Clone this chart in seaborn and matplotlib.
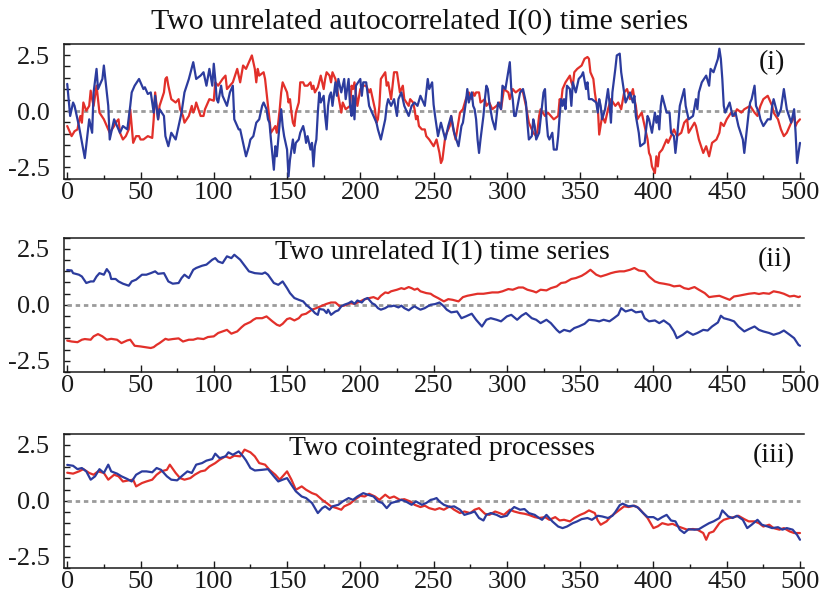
import matplotlib
matplotlib.use("Agg")
import matplotlib.pyplot as plt
import seaborn as sns
import pandas as pd
from matplotlib.ticker import MultipleLocator

# ---------------- data ----------------
# Panel (i): two unrelated autocorrelated I(0) series
t_i_blue = [0, 2, 4, 5, 8, 12, 15, 17, 18, 20, 21, 24, 25, 28, 29, 32, 34, 36, 38, 41, 43, 44, 46, 49, 50, 52, 53, 55, 57, 59, 60, 62, 63, 66, 67, 69, 71, 74, 76, 78, 80, 83, 86, 88, 91, 93, 95, 97, 99, 100, 101, 102, 103, 105, 106, 109, 111, 113, 114, 117, 118, 120, 122, 124, 125, 127, 129, 131, 133, 134, 136, 137, 138, 139, 141, 142, 143, 145, 146, 147, 148, 150, 151, 152, 153, 154, 155, 156, 158, 159, 160, 161, 162, 163, 164, 166, 167, 168, 169, 170, 171, 172, 173, 175, 176, 177, 178, 179, 180, 181, 183, 184, 185, 187, 189, 190, 192, 193, 194, 195, 196, 197, 200, 201, 202, 204, 206, 209, 211, 212, 214, 217, 218, 219, 221, 223, 225, 226, 228, 230, 233, 235, 237, 239, 241, 244, 245, 246, 247, 249, 250, 251, 253, 255, 258, 260, 262, 264, 267, 269, 270, 272, 273, 274, 276, 277, 278, 279, 280, 281, 282, 284, 285, 286, 287, 288, 290, 292, 293, 294, 296, 297, 299, 302, 303, 304, 305, 306, 309, 311, 313, 314, 315, 317, 318, 319, 320, 322, 323, 325, 326, 327, 328, 329, 331, 332, 334, 335, 336, 337, 338, 339, 340, 341, 343, 344, 345, 347, 349, 351, 352, 354, 355, 356, 358, 361, 362, 363, 364, 365, 367, 369, 370, 371, 372, 374, 375, 377, 378, 380, 381, 384, 386, 387, 388, 390, 391, 394, 396, 397, 399, 401, 402, 403, 404, 405, 406, 409, 411, 412, 414, 415, 416, 418, 421, 422, 424, 427, 429, 430, 431, 433, 436, 438, 439, 441, 444, 445, 446, 447, 448, 449, 452, 454, 456, 458, 461, 462, 463, 464, 465, 466, 467, 469, 470, 472, 473, 475, 478, 480, 481, 482, 485, 487, 489, 491, 494, 496, 497, 498, 500]
v_i_blue = [1.22, -0.21, 0.39, 0.24, -0.66, -2.09, -0.36, -0.96, 0.84, 1.89, 0.99, 1.44, 2.04, 0.24, -1.26, -0.36, -0.66, -0.96, -0.66, -0.81, 0.24, 0.84, 1.14, 1.44, 1.29, 0.99, 1.07, 0.77, 0.84, -0.06, 0.69, -0.36, 0.09, -0.21, -1.11, -1.56, -0.96, -1.26, -0.66, -0.06, 0.84, 1.44, 2.19, 1.44, 1.59, 1.74, 1.14, 1.89, 1.14, 2.12, 1.44, 0.54, 0.39, 1.14, 0.69, 0.24, 0.84, 1.14, -0.36, -0.81, -0.81, -1.41, -2.01, -1.56, -1.26, -1.11, -0.51, -0.36, 0.24, 0.39, 0.09, -0.36, -0.51, -1.26, -2.61, -1.56, -2.01, -0.51, 0.09, -0.66, -1.11, -1.71, -2.91, -2.16, -1.71, -1.26, -1.86, -1.41, -1.26, -0.96, -0.81, -0.66, -0.96, -1.41, -1.11, -1.71, -1.41, -2.46, -1.56, -1.26, -0.06, 0.84, 0.39, 0.69, -0.21, -0.81, 0.24, 0.69, 0.84, 0.24, 1.29, 0.69, 1.44, 0.84, 1.44, 0.54, 1.44, 0.24, -0.21, 0.69, -0.36, 1.14, 1.44, 0.69, 1.29, 1.29, 0.24, -0.21, -0.51, -0.81, -1.26, -0.36, 0.24, 0.54, 0.24, 0.54, -0.21, 0.54, 0.84, 0.24, -0.21, 0.24, 0.39, 0.24, 0.69, 0.24, 0.84, 1.44, 0.99, 1.29, 0.3, -0.21, -1.11, -0.51, -1.26, -0.66, -0.21, -0.96, -1.56, -0.66, -0.51, 0.39, 0.99, 0.39, 0.84, 0.24, 0.09, -0.36, -1.26, -1.86, -1.26, -0.21, 0.54, 1.14, 0.99, 0.39, -0.36, -0.81, -0.21, 0.39, 0.09, 1.14, 0.99, 2.19, 0.99, 0.54, -0.21, -0.21, 0.84, 0.99, 0.39, -0.51, -1.26, -1.11, -0.36, -0.66, -1.26, -0.96, -0.36, 0.84, 0.99, -0.36, -1.11, -1.26, -0.96, -1.71, -1.71, -1.11, -0.21, 0.54, 0.24, 0.54, 0.09, 1.14, 0.99, 0.24, 1.29, 0.84, 1.44, 1.59, 1.74, 0.99, 1.29, 0.54, 0.54, 0.39, -0.06, 0.54, 0.24, -0.36, 0.09, 0.99, 0.39, -0.51, 0.84, 1.89, 2.49, 2.57, 1.74, 0.84, 0.39, 0.84, 0.39, 0.69, -0.21, -0.96, -1.56, -1.41, -0.21, -0.36, -0.96, -0.06, -0.51, -0.21, -0.81, 0.24, 0.69, -0.06, -0.06, -0.96, -1.11, -1.86, -1.26, 0.24, 0.99, 0.24, -0.36, -0.21, 0.54, 0.09, 0.84, 1.29, 1.59, 1.14, 1.89, 1.74, 2.34, 2.79, 2.34, 1.44, 0.24, -0.06, 0.39, -0.21, -0.06, -0.66, -1.26, -1.86, -1.26, -0.66, -0.06, 0.39, 0.54, 1.14, 0.24, -0.06, -0.36, -0.66, -0.36, -0.36, 0.24, 0.54, -0.21, 0.09, 0.99, 0.09, -0.51, 0.09, -0.96, -2.31, -1.41]

t_i_red = [0, 3, 5, 7, 8, 9, 10, 11, 13, 15, 16, 17, 18, 20, 21, 22, 25, 27, 29, 32, 33, 35, 36, 38, 40, 42, 43, 44, 45, 47, 49, 50, 52, 55, 58, 59, 60, 62, 63, 66, 67, 68, 69, 71, 74, 76, 77, 79, 80, 83, 85, 86, 87, 88, 91, 93, 94, 97, 100, 101, 103, 106, 108, 109, 111, 113, 116, 118, 120, 122, 124, 125, 126, 127, 128, 129, 130, 131, 134, 135, 136, 137, 138, 139, 142, 143, 144, 145, 146, 147, 148, 150, 151, 152, 153, 154, 155, 156, 158, 159, 161, 162, 164, 166, 167, 168, 169, 171, 173, 175, 176, 177, 179, 180, 181, 183, 185, 187, 188, 190, 193, 194, 195, 196, 198, 200, 202, 204, 206, 207, 209, 210, 211, 212, 213, 214, 217, 218, 219, 221, 223, 225, 226, 227, 229, 230, 233, 234, 236, 237, 238, 239, 240, 242, 244, 245, 247, 250, 252, 254, 255, 256, 258, 259, 261, 262, 263, 265, 268, 270, 272, 274, 276, 277, 278, 279, 281, 282, 285, 286, 288, 290, 293, 295, 296, 298, 301, 302, 304, 306, 309, 311, 312, 313, 315, 318, 320, 321, 322, 323, 326, 328, 330, 332, 335, 336, 337, 338, 340, 343, 344, 345, 346, 348, 351, 353, 355, 356, 357, 359, 360, 361, 362, 363, 365, 367, 369, 371, 374, 376, 378, 380, 382, 384, 386, 387, 388, 389, 392, 394, 395, 396, 397, 398, 399, 401, 402, 403, 404, 406, 409, 410, 412, 414, 416, 419, 421, 423, 424, 428, 429, 431, 434, 436, 438, 440, 443, 445, 446, 448, 450, 453, 455, 457, 460, 462, 466, 469, 471, 473, 475, 478, 481, 482, 485, 487, 489, 491, 494, 496, 497, 498, 500]
v_i_red = [-0.66, -1.11, -0.89, -0.81, -0.44, -0.21, -0.51, 0.39, 0.02, 0.24, 0.92, 0.54, 0.24, 1.14, 0.54, -0.06, -0.36, -0.66, -0.96, -0.66, -0.51, -0.36, -0.96, -1.26, -1.11, -0.81, 0.09, -0.66, -1.41, -1.11, -1.11, -1.26, -1.26, -1.11, -1.19, -0.36, 0.84, -0.36, 0.24, 0.84, 1.44, 1.52, 1.14, 0.54, 0.39, 0.54, 0.09, -0.21, -0.51, -0.21, 0.24, -0.06, 0.09, 0.39, -0.21, -0.21, 0.09, 0.54, 0.47, 1.29, 1.14, 1.44, 1.59, 0.99, 1.14, 1.29, 1.89, 1.29, 2.04, 1.89, 2.19, 2.34, 2.49, 2.19, 1.89, 1.29, 1.89, 1.59, 1.74, 1.44, 0.84, 0.24, -0.36, -0.96, -0.66, -0.96, -0.51, 0.09, 0.84, 1.29, 1.14, 0.84, 0.39, 0.54, -0.06, -0.51, -0.66, -0.06, 0.39, 1.29, 1.29, 1.14, 1.14, 1.29, 0.99, 1.14, 0.84, 1.07, 1.59, 0.99, 1.44, 1.74, 1.59, 1.29, 1.74, 1.44, 0.69, -0.06, 0.39, 0.09, 0.24, 1.14, 0.99, 1.29, 0.24, 0.99, 1.14, 1.14, 0.84, 0.99, 0.39, 0.09, -0.51, -0.36, 0.24, 1.44, 1.74, 1.14, 1.29, 0.54, 1.74, 1.74, 1.29, 0.84, 1.14, 0.54, 0.24, 0.54, 0.39, 0.09, -0.36, -0.21, -0.66, -0.81, -0.81, -1.11, -1.26, -1.56, -1.26, -1.86, -2.31, -2.16, -1.11, -0.96, -0.66, -0.21, -0.66, -1.26, -0.06, 0.09, 0.54, 0.84, 0.54, 0.84, 0.69, 0.84, 0.84, 0.39, 0.54, 0.24, 0.39, 0.09, 0.24, 0.39, 0.09, 0.99, 0.84, 0.54, 0.99, 0.84, 0.99, 0.84, 0.54, 0.24, -0.51, -0.96, -1.11, -0.81, -0.21, 0.09, -0.21, -0.06, -0.21, -0.36, -0.21, 0.54, 0.39, 0.99, 1.29, 1.59, 1.29, 1.14, 1.74, 1.89, 2.04, 2.34, 2.42, 2.34, 1.74, 1.44, 0.84, 0.39, 0.24, -1.04, -0.21, -0.51, 0.09, 0.54, 0.24, 0.39, 0.09, 0.84, 0.99, 0.54, 0.99, 0.54, 0.24, -0.36, -0.06, -0.66, -0.96, -1.26, -1.86, -2.01, -2.46, -2.76, -2.01, -2.46, -1.86, -1.71, -1.26, -1.41, -1.11, -0.81, -1.11, -0.96, -0.51, -0.36, -0.96, -0.51, -0.66, -1.26, -1.86, -1.56, -2.01, -1.41, -1.26, -0.96, -0.51, -0.66, -0.36, -0.06, -0.21, 0.09, -0.06, 0.09, 0.24, -0.06, -0.21, 0.24, 0.54, 0.69, 0.24, -0.06, -0.36, -0.81, -1.11, -0.96, -0.51, -0.21, -0.66, -0.51, -0.36]

# Panel (ii): two unrelated I(1) series
t_ii_blue = [0, 3, 4, 8, 10, 13, 16, 18, 20, 22, 25, 27, 29, 30, 33, 35, 38, 42, 44, 47, 51, 54, 57, 60, 62, 66, 69, 72, 76, 78, 80, 83, 86, 88, 92, 95, 99, 101, 103, 106, 109, 112, 114, 118, 121, 124, 128, 133, 135, 137, 141, 144, 147, 150, 152, 155, 158, 161, 163, 167, 169, 171, 172, 175, 177, 178, 180, 183, 185, 187, 189, 192, 194, 196, 198, 201, 203, 205, 208, 210, 212, 214, 217, 219, 221, 223, 226, 228, 230, 233, 235, 237, 239, 241, 244, 246, 248, 251, 254, 257, 259, 262, 266, 269, 272, 276, 279, 283, 286, 289, 293, 296, 300, 303, 307, 310, 313, 317, 320, 323, 327, 330, 334, 336, 339, 343, 346, 349, 353, 356, 360, 363, 366, 370, 373, 376, 378, 381, 385, 388, 392, 394, 397, 401, 404, 407, 411, 414, 416, 420, 423, 427, 430, 434, 437, 440, 444, 446, 448, 452, 455, 458, 462, 465, 469, 472, 475, 479, 482, 486, 489, 493, 496, 499, 500]
v_ii_blue = [1.55, 1.53, 1.41, 1.34, 1.26, 0.97, 1.04, 1.04, 1.26, 1.41, 1.34, 1.59, 1.41, 1.15, 1.15, 1.04, 0.94, 0.85, 1.04, 1.12, 1.34, 1.34, 1.41, 1.49, 1.38, 1.41, 1.04, 0.94, 0.97, 1.19, 1.34, 1.19, 1.56, 1.64, 1.74, 1.79, 2.01, 2.08, 1.93, 1.86, 2.16, 2.08, 2.23, 2.01, 1.75, 1.49, 1.41, 1.38, 1.44, 1.34, 0.97, 0.89, 1.04, 0.74, 0.52, 0.30, 0.22, 0.15, 0.0, -0.22, -0.37, -0.45, -0.19, -0.22, -0.37, -0.22, -0.45, -0.30, -0.25, -0.07, 0.0, 0.07, 0.15, 0.04, 0.19, 0.10, 0.25, 0.30, 0.07, 0.0, -0.15, -0.22, -0.15, -0.07, -0.07, -0.04, -0.12, -0.04, -0.15, -0.25, -0.15, -0.07, -0.15, -0.22, -0.15, -0.07, 0.0, 0.03, 0.10, -0.07, -0.22, -0.34, -0.30, -0.60, -0.52, -0.40, -0.67, -0.97, -0.67, -0.60, -0.67, -0.74, -0.52, -0.45, -0.67, -0.49, -0.37, -0.60, -0.67, -0.82, -0.67, -0.82, -1.12, -1.24, -1.12, -1.19, -1.04, -0.97, -0.85, -0.67, -0.70, -0.74, -0.67, -0.74, -0.60, -0.45, -0.15, -0.30, -0.22, -0.34, -0.30, -0.60, -0.74, -0.70, -0.82, -0.70, -0.89, -1.19, -1.49, -1.34, -1.19, -1.34, -1.26, -1.12, -1.15, -0.97, -0.79, -0.49, -0.60, -0.67, -0.74, -0.97, -1.19, -1.09, -0.97, -1.12, -1.19, -1.26, -1.34, -1.26, -1.15, -1.34, -1.49, -1.79, -1.83]

t_ii_red = [0, 3, 7, 10, 12, 16, 18, 21, 24, 27, 30, 34, 37, 41, 43, 46, 50, 53, 57, 59, 61, 63, 67, 69, 72, 76, 79, 83, 86, 89, 93, 96, 100, 103, 106, 109, 112, 116, 119, 121, 125, 127, 129, 133, 136, 140, 143, 145, 147, 150, 152, 155, 158, 160, 163, 167, 170, 174, 177, 180, 183, 186, 189, 193, 196, 200, 202, 205, 209, 212, 214, 217, 219, 221, 225, 228, 230, 233, 235, 237, 239, 241, 245, 248, 250, 253, 257, 260, 263, 267, 270, 273, 277, 280, 284, 287, 290, 294, 297, 301, 304, 308, 311, 314, 318, 320, 323, 327, 330, 334, 337, 340, 344, 347, 351, 354, 357, 361, 364, 368, 371, 374, 377, 380, 384, 387, 390, 394, 397, 401, 404, 407, 411, 414, 418, 421, 424, 428, 431, 435, 438, 441, 445, 449, 452, 455, 458, 462, 465, 469, 472, 475, 479, 482, 486, 489, 493, 496, 499, 500]
v_ii_red = [-1.60, -1.64, -1.67, -1.56, -1.53, -1.56, -1.41, -1.31, -1.41, -1.56, -1.52, -1.56, -1.71, -1.59, -1.56, -1.83, -1.86, -1.89, -1.93, -1.89, -1.79, -1.71, -1.52, -1.56, -1.53, -1.50, -1.64, -1.56, -1.56, -1.50, -1.53, -1.44, -1.41, -1.26, -1.19, -1.12, -1.29, -1.19, -1.00, -0.89, -0.77, -0.67, -0.60, -0.60, -0.52, -0.74, -0.89, -0.94, -0.85, -0.64, -0.60, -0.70, -0.60, -0.45, -0.40, -0.22, -0.15, -0.04, 0.04, 0.10, 0.10, -0.07, -0.04, 0.07, 0.04, 0.15, 0.22, 0.28, 0.34, 0.25, 0.40, 0.55, 0.52, 0.60, 0.67, 0.74, 0.70, 0.79, 0.74, 0.67, 0.72, 0.60, 0.52, 0.49, 0.40, 0.30, 0.15, 0.25, 0.22, 0.15, 0.34, 0.40, 0.45, 0.49, 0.49, 0.52, 0.55, 0.55, 0.60, 0.70, 0.67, 0.77, 0.77, 0.67, 0.60, 0.55, 0.67, 0.64, 0.74, 0.82, 0.97, 1.00, 1.15, 1.19, 1.29, 1.41, 1.56, 1.34, 1.26, 1.34, 1.41, 1.46, 1.49, 1.49, 1.56, 1.64, 1.53, 1.49, 1.26, 1.04, 0.97, 0.94, 0.89, 0.82, 0.85, 0.74, 0.70, 0.79, 0.67, 0.52, 0.34, 0.37, 0.40, 0.30, 0.22, 0.37, 0.40, 0.45, 0.49, 0.52, 0.48, 0.52, 0.49, 0.60, 0.55, 0.49, 0.37, 0.40, 0.34, 0.37]

# Panel (iii): two cointegrated processes
t_iii_blue = [0, 4, 7, 10, 13, 16, 19, 22, 25, 28, 30, 34, 37, 41, 44, 47, 51, 54, 58, 61, 64, 68, 71, 75, 78, 82, 85, 88, 92, 95, 99, 101, 104, 108, 110, 113, 117, 120, 122, 125, 128, 133, 137, 141, 144, 147, 150, 153, 156, 160, 163, 167, 169, 171, 174, 176, 179, 181, 185, 188, 192, 195, 198, 202, 205, 209, 212, 215, 218, 221, 225, 228, 231, 235, 238, 242, 245, 248, 250, 252, 254, 257, 261, 264, 268, 271, 275, 278, 281, 284, 286, 289, 293, 296, 300, 303, 305, 309, 312, 315, 319, 322, 324, 327, 331, 335, 338, 341, 345, 348, 351, 355, 358, 362, 365, 369, 372, 374, 377, 379, 383, 386, 389, 393, 396, 400, 403, 406, 409, 412, 415, 418, 421, 424, 428, 431, 434, 438, 441, 445, 447, 451, 454, 457, 461, 464, 467, 471, 474, 478, 481, 485, 488, 491, 495, 498, 500]
v_iii_blue = [1.60, 1.56, 1.41, 1.46, 1.31, 0.94, 1.09, 1.41, 1.24, 1.61, 1.31, 1.21, 1.09, 0.97, 0.86, 1.16, 1.31, 1.31, 1.27, 1.46, 1.38, 1.09, 0.94, 0.91, 1.09, 1.31, 1.24, 1.61, 1.68, 1.79, 1.86, 2.10, 1.90, 1.98, 2.16, 2.05, 2.20, 1.98, 1.80, 1.46, 1.35, 1.38, 1.41, 1.09, 0.86, 0.94, 1.01, 0.71, 0.42, 0.19, 0.12, -0.10, -0.33, -0.55, -0.33, -0.25, -0.40, -0.25, -0.18, -0.03, 0.12, 0.04, 0.19, 0.34, 0.27, 0.19, -0.03, -0.10, -0.33, -0.10, -0.03, 0.04, -0.03, -0.18, -0.03, -0.18, -0.10, 0.04, 0.07, 0.12, -0.03, -0.18, -0.28, -0.25, -0.40, -0.63, -0.55, -0.48, -0.77, -0.88, -0.63, -0.55, -0.63, -0.73, -0.67, -0.40, -0.28, -0.40, -0.37, -0.55, -0.63, -0.77, -0.85, -0.63, -0.92, -1.15, -1.22, -1.15, -1.00, -0.92, -0.82, -0.77, -0.85, -0.67, -0.70, -0.77, -0.67, -0.50, -0.20, -0.13, -0.25, -0.22, -0.28, -0.55, -0.73, -0.73, -0.85, -0.73, -0.63, -0.88, -0.92, -1.29, -1.44, -1.27, -1.29, -1.27, -1.15, -1.00, -0.92, -0.77, -0.43, -0.70, -0.77, -0.67, -0.85, -1.22, -1.07, -0.85, -1.07, -1.15, -1.22, -1.18, -1.29, -1.22, -1.29, -1.52, -1.74]

t_iii_red = [0, 4, 8, 11, 15, 18, 21, 25, 28, 32, 35, 38, 42, 45, 47, 51, 54, 58, 61, 64, 68, 70, 74, 77, 80, 84, 87, 91, 94, 97, 101, 104, 108, 111, 114, 118, 121, 125, 128, 131, 135, 138, 142, 145, 147, 150, 153, 156, 160, 163, 167, 170, 174, 177, 180, 184, 187, 189, 193, 196, 200, 203, 206, 210, 213, 217, 220, 223, 227, 230, 234, 237, 241, 244, 247, 251, 254, 257, 261, 264, 268, 271, 275, 278, 281, 285, 288, 292, 295, 298, 302, 305, 309, 312, 315, 319, 322, 326, 329, 333, 336, 339, 343, 346, 350, 353, 356, 360, 362, 364, 368, 371, 374, 377, 380, 383, 387, 390, 393, 396, 400, 403, 406, 410, 413, 417, 420, 423, 427, 430, 434, 436, 438, 441, 445, 448, 452, 455, 458, 462, 465, 469, 472, 475, 479, 482, 486, 489, 493, 496, 500]
v_iii_red = [1.25, 1.21, 1.31, 1.41, 1.24, 1.16, 1.31, 1.24, 0.94, 1.16, 1.09, 0.86, 0.91, 0.94, 0.64, 0.79, 0.86, 0.94, 1.16, 1.31, 1.38, 1.61, 1.24, 1.01, 0.94, 1.01, 1.16, 1.31, 1.35, 1.53, 1.68, 1.83, 1.98, 1.90, 2.01, 1.98, 2.28, 2.16, 1.98, 1.68, 1.61, 1.38, 1.16, 0.94, 1.09, 1.31, 0.94, 0.49, 0.64, 0.49, 0.34, 0.27, 0.04, -0.10, -0.25, -0.33, -0.40, -0.25, -0.13, 0.04, 0.22, 0.19, 0.31, 0.19, 0.04, 0.27, 0.12, 0.19, 0.04, 0.07, -0.03, -0.18, -0.28, -0.22, -0.33, -0.40, -0.33, -0.40, -0.25, -0.40, -0.55, -0.48, -0.55, -0.40, -0.33, -0.58, -0.63, -0.48, -0.55, -0.63, -0.40, -0.48, -0.55, -0.58, -0.63, -0.73, -0.77, -0.73, -0.85, -0.73, -0.88, -0.85, -0.92, -0.77, -0.63, -0.55, -0.43, -0.55, -0.88, -1.07, -0.92, -0.70, -0.55, -0.40, -0.25, -0.28, -0.22, -0.33, -0.55, -0.77, -1.22, -1.14, -1.00, -1.07, -1.03, -1.15, -1.22, -1.29, -1.26, -1.29, -1.44, -1.74, -1.44, -1.37, -1.00, -0.85, -0.77, -0.73, -0.67, -0.82, -0.92, -0.92, -1.00, -1.15, -1.07, -1.22, -1.29, -1.22, -1.37, -1.44, -1.44]

titles = ["Two unrelated autocorrelated I(0) time series",
          "Two unrelated I(1) time series",
          "Two cointegrated processes"]
panel_tags = ["(i)", "(ii)", "(iii)"]
y_ticks = [-2.5, 0.0, 2.5]
x_ticks = [0, 50, 100, 150, 200, 250, 300, 350, 400, 450, 500]

RED = "#e2302a"
BLUE = "#2c3c9e"
GREY = "#9b9b9b"

# ---------------- figure ----------------
sns.set_theme(style="ticks")
plt.rcParams["font.family"] = ["Liberation Serif", "DejaVu Serif"]

W_PX, H_PX = 827, 600
fig = plt.figure(figsize=(W_PX / 100, H_PX / 100), dpi=100)

left_px, right_px = 64, 803.5
boxes = [(44, 178.5), (237.5, 372), (433.5, 568)]

series = [
    (t_i_red, v_i_red, t_i_blue, v_i_blue),
    (t_ii_red, v_ii_red, t_ii_blue, v_ii_blue),
    (t_iii_red, v_iii_red, t_iii_blue, v_iii_blue),
]

tag_pos = [(481, 2.16), (483, 2.0), (482, 2.03)]

for k, ((tr, vr, tb, vb), (top, bot)) in enumerate(zip(series, boxes)):
    ax = fig.add_axes([left_px / W_PX, 1 - bot / H_PX,
                       (right_px - left_px) / W_PX, (bot - top) / H_PX])
    ax.hlines(0, tr[0], tr[-1], colors=GREY, linestyles=(0, (1.6, 1.35)),
              linewidth=2.0, zorder=1)
    df_r = pd.DataFrame({"t": tr, "v": vr})
    df_b = pd.DataFrame({"t": tb, "v": vb})
    for df, col in [(df_r, RED), (df_b, BLUE)]:
        sns.lineplot(data=df, x="t", y="v", color=col, linewidth=1.6,
                     ax=ax, estimator=None, sort=False, zorder=3)
    ax.set_xlim(-2.2, 502.4)
    ax.set_ylim(-3.0, 3.0)
    ax.set_xlabel("")
    ax.set_ylabel("")
    ax.set_xticks(x_ticks)
    ax.set_yticks(y_ticks)
    ax.set_yticklabels([f"{y:.1f}" for y in y_ticks])
    ax.xaxis.set_minor_locator(MultipleLocator(25))
    ax.yaxis.set_minor_locator(MultipleLocator(0.5))
    ax.tick_params(axis="both", which="both", direction="in", colors="#1a1a1a",
                   width=1.0, labelsize=19)
    ax.tick_params(axis="x", which="major", length=5, pad=2.5)
    ax.tick_params(axis="x", which="minor", length=3)
    ax.tick_params(axis="y", which="major", length=4, pad=10)
    ax.tick_params(axis="y", which="minor", length=4)
    for side in ["left", "bottom", "top"]:
        ax.spines[side].set_visible(True)
        ax.spines[side].set_linewidth(1.1)
        ax.spines[side].set_color("#1a1a1a")
    ax.spines["right"].set_visible(False)
    tx, ty = tag_pos[k]
    ax.text(tx, ty, panel_tags[k], ha="center", va="center", fontsize=20,
            color="#111111")
    if k == 0:
        fig.text(420 / W_PX, 1 - 22 / H_PX, titles[k], ha="center", va="center",
                 fontsize=21.5, color="#111111")
    else:
        ax.text(256, 2.31, titles[k], ha="center", va="center", fontsize=20,
                color="#111111")

fig.savefig("out.png", dpi=100)
